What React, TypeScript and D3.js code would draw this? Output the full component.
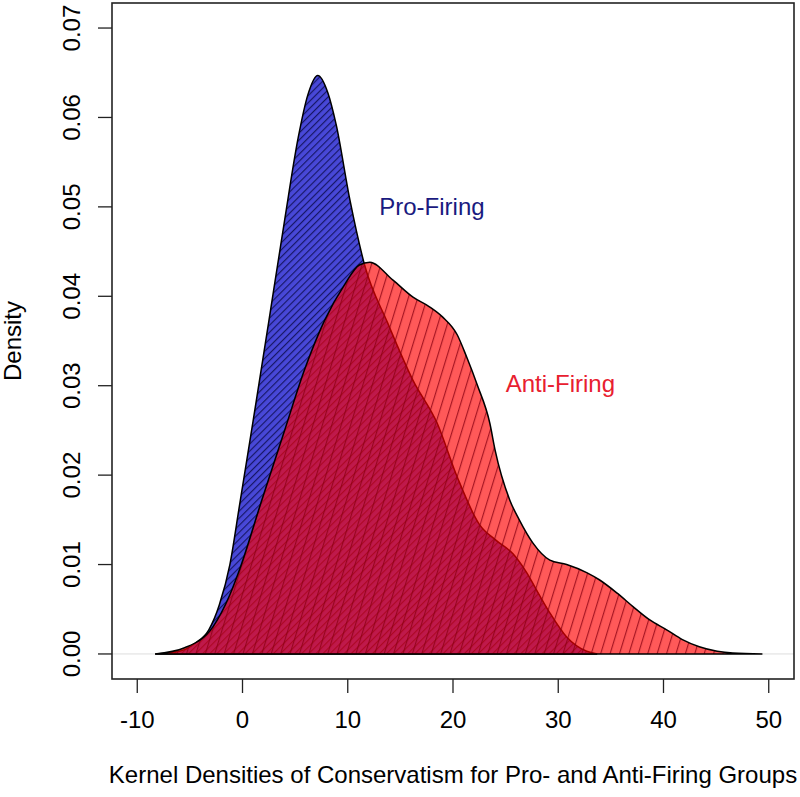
import React from "react";
import * as d3 from "d3";

const xTicks = [-10, 0, 10, 20, 30, 40, 50];
const yTicks = [0, 0.01, 0.02, 0.03, 0.04, 0.05, 0.06, 0.07];
const yTickLabels = ["0.00", "0.01", "0.02", "0.03", "0.04", "0.05", "0.06", "0.07"];

// Pro-Firing density (x, density)
const proX = [-8.3, -6.0, -4.5, -3.2, -2.2, -1.2, -0.3, 1.0, 2.5, 4.0, 5.3, 6.2, 7.15, 8.1, 8.9, 10.2, 11.6, 13.8, 16.2, 18.5, 20.4, 22.5, 24.1, 25.7, 27.0, 28.2, 29.2, 30.8, 32.7, 33.7];
const proY = [0, 0.0003, 0.0012, 0.0027, 0.0055, 0.01, 0.0165, 0.026, 0.0372, 0.0485, 0.0578, 0.0625, 0.0647, 0.0628, 0.0592, 0.0508, 0.0435, 0.037, 0.0306, 0.0258, 0.0198, 0.0145, 0.0127, 0.0112, 0.0091, 0.0066, 0.0046, 0.0019, 0.0003, 0];

// Anti-Firing density (x, density)
const antiX = [-8.3, -5.5, -2.83, -1.21, -0.26, 1.83, 4.0, 5.9, 7.8, 9.7, 11.1, 12.1, 14.3, 16.2, 17.8, 19.0, 20.4, 21.3, 22.3, 23.5, 24.0, 25.4, 26.3, 27.6, 29.2, 30.8, 32.7, 33.9, 35.6, 37.1, 38.7, 40.3, 41.8, 43.4, 45.1, 46.6, 49.4];
const antiY = [0, 0.0007, 0.003, 0.0066, 0.0095, 0.0172, 0.025, 0.0318, 0.0373, 0.0413, 0.0435, 0.0438, 0.0418, 0.0399, 0.0388, 0.0377, 0.0357, 0.0332, 0.0301, 0.0258, 0.0228, 0.0172, 0.015, 0.0124, 0.0105, 0.01, 0.0091, 0.0083, 0.0068, 0.0053, 0.0038, 0.0027, 0.0016, 0.0008, 0.0003, 0.0001, 0];

const groupLabels = ["Pro-Firing", "Anti-Firing"];
const labelPos = [[18.0, 0.05], [30.2, 0.0302]];

const W = 800, H = 797;
const left = 112, right = 794, top = 3, bottom = 679;
const FONT = "'Liberation Sans', Arial, sans-serif";
const FS = 24;

export default function App() {
  const x = d3.scaleLinear().domain([-12.4, 52.4]).range([left, right]);
  const y = d3.scaleLinear().domain([-0.0028, 0.0728]).range([bottom, top]);

  const area = d3.area<[number, number]>()
    .x(d => x(d[0]))
    .y0(y(0))
    .y1(d => y(d[1]))
    .curve(d3.curveMonotoneX);

  const proData = proX.map((v, i) => [v, proY[i]] as [number, number]);
  const antiData = antiX.map((v, i) => [v, antiY[i]] as [number, number]);
  const proPath = area(proData) || "";
  const antiPath = area(antiData) || "";

  return (
    <svg width={W} height={H} style={{ position: "absolute", left: 0, top: 0, background: "#fff" }}>
      <defs>
        <pattern id="hatchBlue" patternUnits="userSpaceOnUse" width={5} height={5} patternTransform="rotate(45)">
          <line x1={0.6} y1={0} x2={0.6} y2={5} stroke="#14145e" strokeWidth={1.1} />
        </pattern>
        <pattern id="hatchRed" patternUnits="userSpaceOnUse" width={9} height={9} patternTransform="rotate(17)">
          <line x1={0.6} y1={0} x2={0.6} y2={9} stroke="#8a0010" strokeWidth={1.1} strokeOpacity={0.8} />
        </pattern>
        <clipPath id="plotClip">
          <rect x={left} y={top} width={right - left} height={bottom - top} />
        </clipPath>
      </defs>

      {/* zero line */}
      <line x1={left} x2={right} y1={y(0)} y2={y(0)} stroke="#dddddd" strokeWidth={1} />

      <g clipPath="url(#plotClip)">
        <path d={proPath} fill="#4848d8" />
        <path d={proPath} fill="url(#hatchBlue)" />
        <path d={proPath} fill="none" stroke="#000" strokeWidth={1.5} />

        <path d={antiPath} fill="rgb(255,0,0)" fillOpacity={0.65} />
        <path d={antiPath} fill="url(#hatchRed)" />
        <path d={antiPath} fill="none" stroke="#000" strokeWidth={1.5} />
      </g>

      <text x={x(labelPos[0][0])} y={y(labelPos[0][1])} textAnchor="middle" dominantBaseline="central"
        fontFamily={FONT} fontSize={FS} fill="#1a1a80">{groupLabels[0]}</text>
      <text x={x(labelPos[1][0])} y={y(labelPos[1][1])} textAnchor="middle" dominantBaseline="central"
        fontFamily={FONT} fontSize={FS} fill="#e8202f">{groupLabels[1]}</text>

      {/* box */}
      <rect x={left} y={top} width={right - left} height={bottom - top} fill="none" stroke="#222" strokeWidth={1.6} />

      {/* x axis */}
      {xTicks.map(t => (
        <g key={"x" + t}>
          <line x1={x(t)} x2={x(t)} y1={bottom} y2={bottom + 14} stroke="#222" strokeWidth={1.3} />
          <text x={x(t)} y={bottom + 49} textAnchor="middle" fontFamily={FONT} fontSize={FS} fill="#000">{t}</text>
        </g>
      ))}
      {/* y axis */}
      {yTicks.map((t, i) => (
        <g key={"y" + t}>
          <line x1={left - 14} x2={left} y1={y(t)} y2={y(t)} stroke="#222" strokeWidth={1.3} />
          <text transform={`translate(${left - 32},${y(t)}) rotate(-90)`} textAnchor="middle"
            fontFamily={FONT} fontSize={FS} fill="#000">{yTickLabels[i]}</text>
        </g>
      ))}

      <text x={(left + right) / 2} y={bottom + 104} textAnchor="middle" fontFamily={FONT} fontSize={FS} fill="#000">
        Kernel Densities of Conservatism for Pro- and Anti-Firing Groups
      </text>
      <text transform={`translate(${left - 91},${(top + bottom) / 2}) rotate(-90)`} textAnchor="middle"
        fontFamily={FONT} fontSize={FS} fill="#000">Density</text>
    </svg>
  );
}
